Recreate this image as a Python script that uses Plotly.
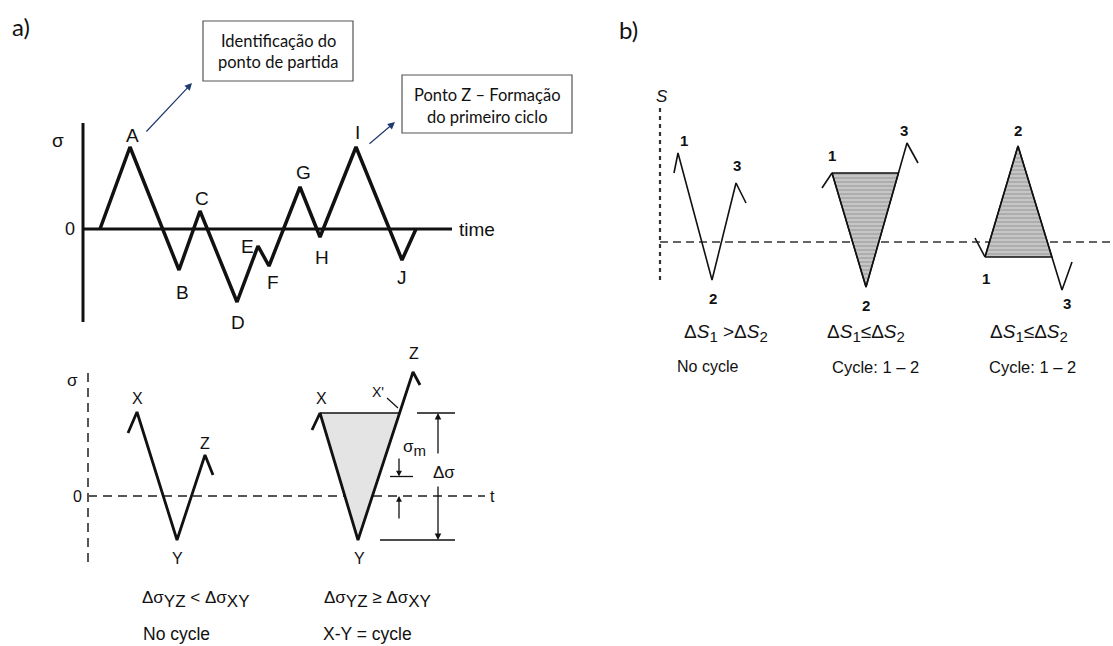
import plotly.graph_objects as go

W, H = 1113, 646
SCALE = 10.0  # pixels per drawing unit on every panel

# ---------------- data ----------------
# a) stress history: time / stress turning points
hist_labels = ["", "A", "B", "C", "D", "E", "F", "G", "H", "I", "J", ""]
hist_t = [1.7, 4.7, 9.6, 11.7, 15.4, 17.5, 18.6, 21.7, 23.7, 27.3, 31.9, 33.3]
hist_s = [0.0, 8.2, -4.1, 1.8, -7.3, -1.7, -3.7, 4.2, -0.8, 8.2, -3.1, 0.0]
hist_lbl_dx = [0, 2, 3, 2, 1, -11, 4, 3, 2, 1, 0, 0]
hist_lbl_dy = [0, 12, -22, 13, -20, 0, -16, 15, -20, 15, -17, 0]

# a) rainflow rule, X-Y-Z sequences
nc_t = [4.0, 4.9, 8.9, 11.7, 12.5]
nc_s = [6.3, 8.4, -4.4, 4.1, 2.1]
cy_t = [22.4, 23.2, 27.0, 32.5, 33.2]
cy_s = [6.6, 8.3, -4.4, 12.4, 11.1]
xyz_labels = ["", "X", "Y", "Z", ""]

# b) three S sequences
b1_t = [1.4, 1.8, 5.2, 7.6, 8.6]
b1_s = [6.9, 8.9, -3.8, 5.9, 3.9]
b2_t = [16.2, 17.2, 20.6, 24.7, 25.8]
b2_s = [5.4, 6.9, -4.5, 9.9, 7.9]
b3_t = [31.5, 32.5, 35.8, 40.2, 41.2]
b3_s = [0.4, -1.5, 9.6, -4.8, -2.0]
num_labels = ["", "1", "2", "3", ""]

# ---------------- helpers ----------------
def rng_x(ox):
    return [-ox / SCALE, (W - ox) / SCALE]

def rng_y(oy):
    return [(oy - H) / SCALE, oy / SCALE]

def px(x):
    return x / W

def py(y):
    return 1 - y / H

def cross_t(t0, s0, t1, s1, level):
    return t0 + (t1 - t0) * (level - s0) / (s1 - s0)

def sub(txt, size):
    return f"<sub><span style='font-size:{size}px'>{txt}</span></sub>"

BLACK = "#111111"
ARIAL = "Liberation Sans, Arial, sans-serif"
CAL = "Lato, Open Sans, sans-serif"

fig = go.Figure()
ann = []
shapes = []

# panel origins (pixels)
origins = {"1": (83, 229), "2": (88, 496), "3": (660, 242)}
layout_axes = {}
for k, (ox, oy) in origins.items():
    xn = "xaxis" if k == "1" else f"xaxis{k}"
    yn = "yaxis" if k == "1" else f"yaxis{k}"
    xa = dict(range=rng_x(ox), domain=[0, 1], visible=False, fixedrange=True)
    ya = dict(range=rng_y(oy), domain=[0, 1], visible=False, fixedrange=True)
    if k != "1":
        xa["overlaying"] = "x"
        ya["overlaying"] = "y"
        xa["anchor"] = f"y{k}"
        ya["anchor"] = f"x{k}"
    layout_axes[xn] = xa
    layout_axes[yn] = ya

def ref(k):
    return ("x", "y") if k == "1" else (f"x{k}", f"y{k}")

def line(k, xs, ys, color=BLACK, width=2, dash=None, fill=None, fillcolor=None, fillpattern=None):
    xr, yr = ref(k)
    d = dict(x=xs, y=ys, mode="lines", xaxis=xr, yaxis=yr, hoverinfo="skip",
             showlegend=False, line=dict(color=color, width=width, dash=dash))
    if fill:
        d["fill"] = fill
        d["fillcolor"] = fillcolor
        if fillpattern:
            d["fillpattern"] = fillpattern
    fig.add_trace(go.Scatter(**d))

def label(k, x, y, text, size, dx=0, dy=0, bold=False, font=ARIAL, italic=False):
    xr, yr = ref(k)
    t = f"<b>{text}</b>" if bold else text
    ann.append(dict(x=x, y=y, xref=xr, yref=yr, text=t, showarrow=False,
                    xshift=dx, yshift=dy, font=dict(family=font, size=size, color=BLACK,
                                                    style="italic" if italic else "normal")))

def arrow(k, x0, y0, x1, y1, color=BLACK, width=1.2, head=2, size=1):
    xr, yr = ref(k)
    ann.append(dict(x=x1, y=y1, ax=x0, ay=y0, xref=xr, yref=yr, axref=xr, ayref=yr,
                    text="", showarrow=True, arrowhead=head, arrowsize=size,
                    arrowwidth=width, arrowcolor=color))

def ptext(x, y, text, size, font=ARIAL, xanchor="center", color=BLACK):
    ann.append(dict(x=px(x), y=py(y), xref="paper", yref="paper", text=text,
                    showarrow=False, xanchor=xanchor, yanchor="middle",
                    font=dict(family=font, size=size, color=color)))

# ---------------- a) stress history ----------------
line("1", [0, 0], [-9.3, 10.6], width=3)
line("1", [0, 36.9], [0, 0], width=3)
line("1", hist_t, hist_s, width=3.5)
for lb, t, s, dx, dy in zip(hist_labels, hist_t, hist_s, hist_lbl_dx, hist_lbl_dy):
    if lb:
        label("1", t, s, lb, 19, dx, dy)
label("1", -2.5, 8.9, "σ", 19)
label("1", -1.3, 0, "0", 18)
label("1", 39.4, 0, "time", 19)

# call-out boxes and arrows
shapes.append(dict(type="rect", xref="paper", yref="paper", x0=px(203), x1=px(353),
                   y0=py(81), y1=py(21), line=dict(color="#555", width=1.2)))
ptext(278, 41, "Identificação do", 16.5, CAL)
ptext(278, 62, "ponto de partida", 16.5, CAL)
shapes.append(dict(type="rect", xref="paper", yref="paper", x0=px(402), x1=px(572),
                   y0=py(133), y1=py(75), line=dict(color="#555", width=1.2)))
ptext(487, 95, "Ponto Z – Formação", 16.5, CAL)
ptext(487, 117, "do primeiro ciclo", 16.5, CAL)
arrow("1", 6.2, 9.6, 10.9, 14.6, color="#1f3a6e", width=1.2, head=2, size=1.2)
arrow("1", 28.5, 8.4, 31.2, 10.7, color="#1f3a6e", width=1.2, head=2, size=1.2)

ptext(21, 26, "a)", 24, CAL)
ptext(628, 30, "b)", 24, CAL)

# ---------------- a) rainflow rule ----------------
line("2", [0, 0], [12.3, -7.2], color="#555", width=2, dash="9px,6px")
line("2", [0, 39.7], [0, 0], color="#555", width=2, dash="9px,6px")
label("2", -1.6, 11.6, "σ", 17)
label("2", -1.1, 0, "0", 16)
label("2", 40.4, 0, "t", 16)

# shaded cycle X - X' - Y
xp_t = cross_t(cy_t[2], cy_s[2], cy_t[3], cy_s[3], cy_s[1])
line("2", [cy_t[1], xp_t, cy_t[2], cy_t[1]], [cy_s[1], cy_s[1], cy_s[2], cy_s[1]],
     color="rgba(0,0,0,0)", width=0, fill="toself", fillcolor="#e4e4e4")
line("2", [cy_t[1], xp_t], [cy_s[1], cy_s[1]], width=1.3)

line("2", nc_t, nc_s, width=2.8)
line("2", cy_t, cy_s, width=2.8)
for lb, t, s, dy in zip(xyz_labels, nc_t, nc_s, [0, 14, -18, 12, 0]):
    if lb:
        label("2", t, s, lb, 16, 0, dy)
for lb, t, s, dy in zip(xyz_labels, cy_t, cy_s, [0, 15, -18, 19, 0]):
    if lb:
        label("2", t, s, lb, 16, 1, dy)

# X' leader
line("2", [29.9, 31.0], [9.8, 8.8], width=1.2)
label("2", 29.0, 10.4, "X'", 14)

# Δσ range marks
line("2", [32.9, 36.7], [cy_s[1], cy_s[1]], width=1.3)
line("2", [29.2, 36.7], [cy_s[2], cy_s[2]], width=1.3)
arrow("2", 35.0, 4.1, 35.0, cy_s[1], width=1.3, head=2, size=1)
arrow("2", 35.0, 1.1, 35.0, cy_s[2], width=1.3, head=2, size=1)
label("2", 35.6, 2.4, "Δσ", 17)

# σm marks
s_mean = (cy_s[1] + cy_s[2]) / 2
line("2", [30.2, 32.5], [s_mean, s_mean], width=1.3)
arrow("2", 31.1, 3.9, 31.1, s_mean, width=1.3, head=2, size=0.9)
arrow("2", 31.1, -2.4, 31.1, 0, width=1.3, head=2, size=0.9)
label("2", 32.6, 4.8, "σ" + sub("m", 15), 17)

# captions
ptext(140, 599, "Δσ" + sub("YZ", 17) + " < Δσ" + sub("XY", 17), 17, ARIAL, "left")
ptext(141, 634, "No cycle", 17.5, ARIAL, "left")
ptext(322, 599, "Δσ" + sub("YZ", 17) + " ≥ Δσ" + sub("XY", 17), 17, ARIAL, "left")
ptext(321, 634, "X-Y = cycle", 17.5, ARIAL, "left")

# ---------------- b) ----------------
line("3", [0, 0], [13.4, -4.0], color="#333", width=2.2, dash="4px,4px")
line("3", [0, 46], [0, 0], color="#333", width=1.6, dash="8px,5px")
label("3", 0.2, 14.6, "S", 17, italic=True)

pat = dict(shape="-", fgcolor="#7c7c7c", bgcolor="#c6c6c6", size=4, solidity=0.35)
x3 = cross_t(b2_t[2], b2_s[2], b2_t[3], b2_s[3], b2_s[1])
line("3", [b2_t[1], x3, b2_t[2], b2_t[1]], [b2_s[1], b2_s[1], b2_s[2], b2_s[1]],
     color=BLACK, width=1.4, fill="toself", fillcolor="#c6c6c6", fillpattern=pat)
x3r = cross_t(b3_t[2], b3_s[2], b3_t[3], b3_s[3], b3_s[1])
line("3", [b3_t[1], b3_t[2], x3r, b3_t[1]], [b3_s[1], b3_s[2], b3_s[1], b3_s[1]],
     color=BLACK, width=1.4, fill="toself", fillcolor="#c6c6c6", fillpattern=pat)

for ts, ss, offs in [
    (b1_t, b1_s, [(0, 0), (6, 13), (1, -18), (1, 18), (0, 0)]),
    (b2_t, b2_s, [(0, 0), (0, 18), (0, -18), (-3, 13), (0, 0)]),
    (b3_t, b3_s, [(0, 0), (1, -21), (0, 16), (5, -13), (0, 0)]),
]:
    line("3", ts, ss, width=1.6)
    for lb, t, s, (dx, dy) in zip(num_labels, ts, ss, offs):
        if lb:
            label("3", t, s, lb, 15, dx, dy, bold=True)

cap_gt = "Δ<i>S</i>" + sub("1", 15) + " >Δ<i>S</i>" + sub("2", 15)
cap_le = "Δ<i>S</i>" + sub("1", 15) + "≤Δ<i>S</i>" + sub("2", 15)
ptext(682, 333, cap_gt, 19, ARIAL, "left")
ptext(675, 366, "No cycle", 16, ARIAL, "left")
ptext(825, 333, cap_le, 19, ARIAL, "left")
ptext(830, 367, "Cycle: 1 – 2", 16.5, ARIAL, "left")
ptext(988, 333, cap_le, 19, ARIAL, "left")
ptext(987, 367, "Cycle: 1 – 2", 16.5, ARIAL, "left")

fig.update_layout(
    width=W, height=H, margin=dict(l=0, r=0, t=0, b=0),
    paper_bgcolor="white", plot_bgcolor="white",
    annotations=ann, shapes=shapes, showlegend=False,
    **layout_axes,
)
fig.write_html("out.html", config={"displayModeBar": False})
